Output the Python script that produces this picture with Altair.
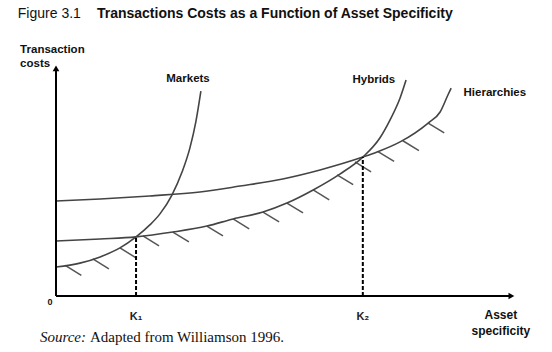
import altair as alt
import pandas as pd

# ---- data (x: asset specificity, y: transaction costs; arbitrary 0-10 units) ----
markets_x = [0, 0.52, 0.96, 1.39, 1.74, 2.04, 2.26, 2.52, 2.74, 2.91, 3.04, 3.15]
markets_y = [1.26, 1.43, 1.70, 2.09, 2.57, 3.09, 3.57, 4.39, 5.39, 6.43, 7.57, 8.91]

hybrids_x = [0, 0.96, 1.74, 2.54, 3.28, 3.85, 4.50, 5.02, 5.59, 6.17, 6.67, 7.04, 7.26, 7.48, 7.61]
hybrids_y = [2.39, 2.48, 2.57, 2.78, 3.04, 3.35, 3.65, 4.04, 4.61, 5.30, 6.04, 6.87, 7.65, 8.61, 9.39]

hier_x = [0, 0.96, 2.04, 3.13, 4.00, 4.93, 5.74, 6.67, 6.98, 7.48, 8.09, 8.35, 8.52, 8.59]
hier_y = [4.13, 4.22, 4.35, 4.52, 4.78, 5.09, 5.48, 6.04, 6.26, 6.70, 7.52, 8.00, 8.74, 9.04]

# hatch marks along the lower envelope (start points on the curve)
hatch_x = [0.20, 0.80, 1.39, 1.89, 2.54, 3.28, 3.85, 4.50, 5.02, 5.59, 6.11, 6.50, 7.00, 7.54, 8.09]
hatch_y = [1.33, 1.61, 2.09, 2.61, 2.78, 3.04, 3.35, 3.65, 4.04, 4.61, 5.27, 5.83, 6.28, 6.75, 7.52]

# critical asset-specificity values (K1, K2) and the cost where curves cross
k_x = [1.74, 6.67]
k_y = [2.57, 6.04]
k_labels = ["K\u2081", "K\u2082"]

curve_names = ["Markets", "Hybrids", "Hierarchies"]

# ---- build tables ----
curves = pd.concat([
    pd.DataFrame({"x": markets_x, "y": markets_y, "curve": "Markets"}),
    pd.DataFrame({"x": hybrids_x, "y": hybrids_y, "curve": "Hybrids"}),
    pd.DataFrame({"x": hier_x, "y": hier_y, "curve": "Hierarchies"}),
], ignore_index=True)
curves["order"] = range(len(curves))

hatch = pd.DataFrame({"x": hatch_x, "y": hatch_y})
hatch["x2"] = hatch["x"] + 0.35
hatch["y2"] = hatch["y"] - 0.43

dash = pd.DataFrame({"x": k_x, "y": [0, 0], "y2": k_y})
klab = pd.DataFrame({"x": k_x, "y": [-0.91, -0.91], "t": k_labels})

xs = alt.Scale(domain=[0, 10], nice=False, zero=False)
ys = alt.Scale(domain=[0, 10], nice=False, zero=False)
X = lambda f="x": alt.X(f"{f}:Q", scale=xs, axis=None)
Y = lambda f="y": alt.Y(f"{f}:Q", scale=ys, axis=None)

SANS = "Liberation Sans"
SERIF = "Liberation Serif"

axes = alt.Chart(pd.DataFrame({"x": [0, 0], "y": [0, 0], "x2": [0, 9.85], "y2": [9.85, 0]})).mark_rule(
    color="black", strokeWidth=2
).encode(x=X(), y=Y(), x2="x2:Q", y2="y2:Q")

arrow_up = alt.Chart(pd.DataFrame({"x": [0], "y": [9.9]})).mark_point(
    shape="triangle-up", filled=True, size=45, color="black", opacity=1
).encode(x=X(), y=Y())
arrow_right = alt.Chart(pd.DataFrame({"x": [9.9], "y": [0]})).mark_point(
    shape="triangle-right", filled=True, size=45, color="black", opacity=1
).encode(x=X(), y=Y())

lines = alt.Chart(curves).mark_line(color="#444", strokeWidth=1.6, interpolate="monotone").encode(
    x=X(), y=Y(), detail="curve:N", order="order:Q"
)

hatches = alt.Chart(hatch).mark_rule(color="#555", strokeWidth=1.5).encode(
    x=X(), y=Y(), x2="x2:Q", y2="y2:Q"
)

dashes = alt.Chart(dash).mark_rule(color="black", strokeWidth=2, strokeDash=[4, 2]).encode(
    x=X(), y=Y(), y2="y2:Q"
)

k_text = alt.Chart(klab).mark_text(font=SANS, fontSize=11, fontWeight="bold", color="#222").encode(
    x=X(), y=Y(), text="t:N"
)

curve_lab = alt.Chart(pd.DataFrame({
    "x": [2.87, 6.91, 9.54], "y": [9.43, 9.39, 8.83], "t": curve_names
})).mark_text(font=SANS, fontSize=11.5, fontWeight="bold", color="#111").encode(
    x=X(), y=Y(), text="t:N"
)

ylab = alt.Chart(pd.DataFrame({"x": [-0.78, -0.78], "y": [10.70, 10.09], "t": ["Transaction", "costs"]})).mark_text(
    font=SANS, fontSize=11.5, fontWeight="bold", align="left", color="#111"
).encode(x=X(), y=Y(), text="t:N")

xlab = alt.Chart(pd.DataFrame({"x": [9.67, 9.67], "y": [-0.83, -1.52], "t": ["Asset", "specificity"]})).mark_text(
    font=SANS, fontSize=12, fontWeight="bold", color="#111"
).encode(x=X(), y=Y(), text="t:N")

zero = alt.Chart(pd.DataFrame({"x": [-0.13], "y": [-0.26], "t": ["0"]})).mark_text(
    font=SANS, fontSize=9, fontWeight="bold", color="#111"
).encode(x=X(), y=Y(), text="t:N")

title1 = alt.Chart(pd.DataFrame({"x": [-0.83], "y": [12.26], "t": ["Figure 3.1"]})).mark_text(
    font=SANS, fontSize=14, align="left", color="#111"
).encode(x=X(), y=Y(), text="t:N")
title2 = alt.Chart(pd.DataFrame({"x": [0.89], "y": [12.26], "t": ["Transactions Costs as a Function of Asset Specificity"]})).mark_text(
    font=SANS, fontSize=14, fontWeight="bold", align="left", color="#111"
).encode(x=X(), y=Y(), text="t:N")

src1 = alt.Chart(pd.DataFrame({"x": [-0.35], "y": [-1.78], "t": ["Source:"]})).mark_text(
    font=SERIF, fontSize=15, fontStyle="italic", align="left", color="#111"
).encode(x=X(), y=Y(), text="t:N")
src2 = alt.Chart(pd.DataFrame({"x": [-0.35], "y": [-1.78], "t": ["Adapted from Williamson 1996."]})).mark_text(
    font=SERIF, fontSize=15, align="left", dx=50, color="#111"
).encode(x=X(), y=Y(), text="t:N")

chart = alt.layer(
    hatches, lines, dashes, axes, arrow_up, arrow_right,
    k_text, curve_lab, ylab, xlab, zero, title1, title2, src1, src2
).properties(
    width=460, height=230,
    autosize=alt.AutoSizeParams(type="none"),
    padding={"left": 56, "top": 66, "right": 36, "bottom": 56},
    background="white",
).configure_view(stroke=None)

chart.save("out.html", embed_options={"renderer": "svg", "actions": False})
